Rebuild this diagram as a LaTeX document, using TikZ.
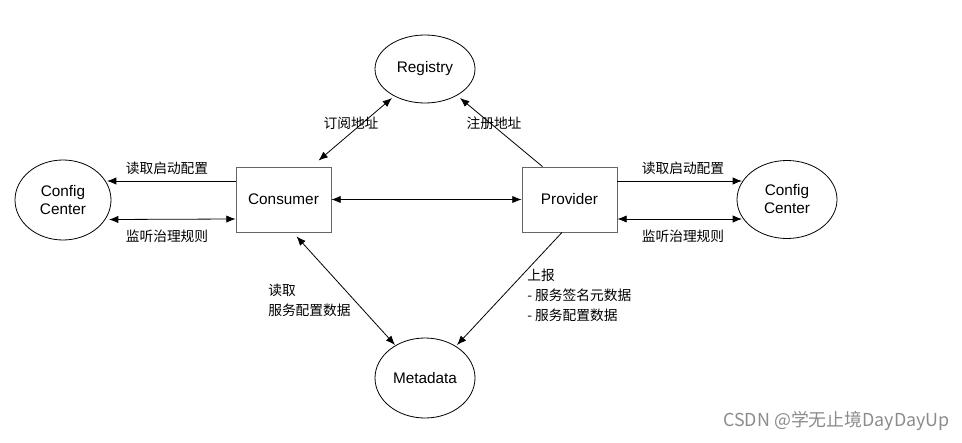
\documentclass[tikz,border=0pt]{standalone}
\usepackage{fontspec}
\setmainfont{Liberation Sans}
\newfontfamily\cjk{Noto Sans CJK SC}
\usetikzlibrary{shapes.geometric,arrows.meta,calc}
\begin{document}
\begin{tikzpicture}[x=0.75pt,y=-0.75pt,
  every node/.style={inner sep=0pt},
  ell/.style={draw,ellipse,line width=0.6pt,font=\fontsize{11.5}{13.5}\selectfont,align=center},
  boxnode/.style={draw=black!60,rectangle,line width=0.6pt,minimum width=71.25pt,minimum height=48.75pt,font=\fontsize{11.5}{13.5}\selectfont},
  lbl/.style={font=\cjk\fontsize{10.3}{15}\selectfont,align=left},
  arr/.style={line width=0.6pt,-{Latex[length=7pt,width=5.5pt]}},
  darr/.style={line width=0.6pt,{Latex[length=7pt,width=5.5pt]}-{Latex[length=7pt,width=5.5pt]}}]
\path[use as bounding box,fill=white] (0,0) rectangle (962,442);

\node[ell,minimum width=72pt,minimum height=60pt] (cc1) at (63,200) {Config\\Center};
\node[ell,minimum width=75pt,minimum height=58.5pt] (cc2) at (787,199.5) {Config\\Center};
\node[ell,minimum width=75pt,minimum height=51pt] (reg) at (425,69) {Registry};
\node[ell,minimum width=75pt,minimum height=60pt] (meta) at (425,378) {Metadata};
\node[boxnode] (cons) at (283.5,199.5) {Consumer};
\node[boxnode] (prov) at (569.5,199.5) {Provider};

% consumer <-> config center
\draw[arr] ($(cons.west)+(0,-18.5)$) -- ($(cc1.center)+(44,-19)$);
\draw[darr] ($(cc1.center)+(46,19.5)$) -- ($(cons.west)+(0,19.5)$);
\node[lbl] (l1) at (167,168) {读取启动配置};
\node[lbl] (l2) at (167,236) {监听治理规则};

% provider <-> config center
\draw[arr] ($(prov.east)+(0,-18.5)$) -- ($(cc2.center)+(-45,-18.5)$);
\draw[darr] ($(prov.east)+(0,19.5)$) -- ($(cc2.center)+(-45,19.5)$);
\node[lbl] (l3) at (683,168) {读取启动配置};
\node[lbl] (l4) at (683,236) {监听治理规则};

% consumer <-> provider
\draw[darr] (cons.east) -- (prov.west);

% registry
\draw[darr] ($(cons.north)+(35,-6)$) -- ($(reg.center)+(-33,29)$);
\draw[arr] ($(prov.north)+(-27,0)$) -- ($(reg.center)+(35,29)$);
\node[lbl] (l5) at (351,123) {订阅地址};
\node[lbl] (l6) at (494,123) {注册地址};

% metadata
\draw[darr] ($(cons.south)+(13,4)$) -- ($(meta.center)+(-30,-33)$);
\draw[arr] ($(prov.south)+(-7.5,0)$) -- ($(meta.center)+(32,-33)$);
\node[lbl,anchor=west] (l7) at (268,300) {读取\\服务配置数据};
\node[lbl,anchor=west] (l8) at (527,295) {上报\\- 服务签名元数据\\- 服务配置数据};

% watermark
\node[anchor=east,font=\cjk\fontsize{13.4}{15}\selectfont,text=black!45] (wm) at (950,421) {CSDN @学无止境DayDayUp};
\end{tikzpicture}
\end{document}
